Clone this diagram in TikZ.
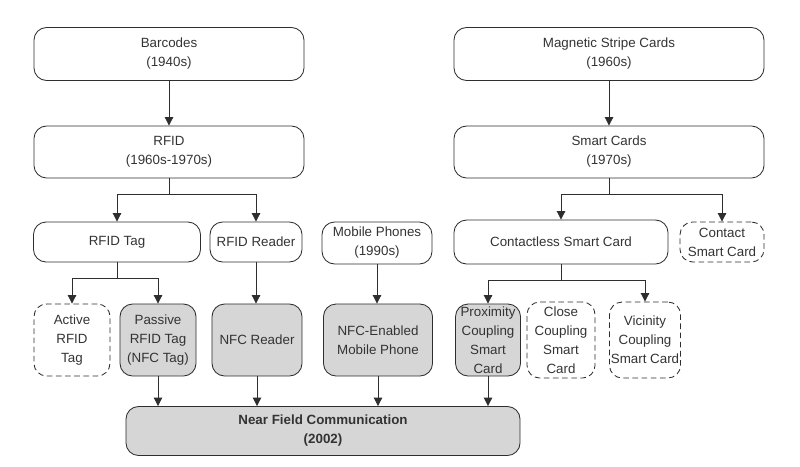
\documentclass[tikz,border=0pt]{standalone}
\usepackage{fontspec}
\setmainfont{Liberation Sans}
\usepackage{tikz}
\usetikzlibrary{positioning,arrows.meta}
\usepackage{xcolor}
\definecolor{linec}{HTML}{2E2E2E}
\definecolor{txtc}{HTML}{333333}
\definecolor{greyc}{HTML}{D6D6D6}

\begin{document}
\begin{tikzpicture}[%
    x=0.025cm,
    y=-0.025cm,
    >={Triangle[width=6pt,length=6pt]},
    card/.style={%
      draw=linec,
      line width=0.6pt,
      rounded corners=9pt,
      align=center,
      inner sep=0pt,
      text=txtc,
      font=\fontsize{9.5}{13.5}\selectfont
    },
    nfc/.style={%
      card,
      fill=greyc
    },
    other/.style={%
      card,
      dashed,
      dash pattern=on 4pt off 2.5pt
    },
    link/.style={%
      ->,
      draw=linec,
      line width=0.6pt
    }
  ]
    \useasboundingbox (0,0) rectangle (800,466);

    % first row
    \node[card, minimum width=6.75cm, minimum height=1.325cm] (barcode) at (169,54)  {Barcodes\\(1940s)};
    \node[card, minimum width=7.75cm, minimum height=1.325cm] (stripe)  at (609,54)  {Magnetic Stripe Cards\\(1960s)};

    % second row
    \node[card, minimum width=6.75cm, minimum height=1.3cm] (rfid)  at (169,152) {RFID\\(1960s-1970s)};
    \node[card, minimum width=7.75cm, minimum height=1.3cm] (smart) at (609,152) {Smart Cards\\(1970s)};

    % third row
    \node[card,  minimum width=4.175cm, minimum height=1cm]  (tag)         at (117,242) {RFID Tag};
    \node[card,  minimum width=2.3cm,   minimum height=1cm]  (reader)      at (256,242) {RFID Reader};
    \node[card,  minimum width=2.75cm,  minimum height=1.05cm] (phone)     at (377,243) {Mobile Phones\\(1990s)};
    \node[card,  minimum width=5.35cm,  minimum height=1.1cm]  (contactless) at (561,242) {Contactless Smart Card};
    \node[other, minimum width=2.1cm,   minimum height=1cm]  (contact)     at (722,242) {Contact\\Smart Card};

    % fourth row
    \node[other, minimum width=1.9cm,   minimum height=1.8cm] (active)    at (72,340)  {Active\\RFID\\Tag};
    \node[nfc,   minimum width=1.9cm,   minimum height=1.8cm] (passive)   at (158,340) {Passive\\RFID Tag\\(NFC Tag)};
    \node[nfc,   minimum width=2.25cm,  minimum height=1.8cm] (nfcreader) at (257,340) {NFC Reader};
    \node[nfc,   minimum width=2.725cm, minimum height=1.8cm] (nfcphone)  at (378,340) {NFC-Enabled\\Mobile Phone};
    \node[nfc,   minimum width=1.625cm, minimum height=1.8cm] (proximity) at (488,340) {Proximity\\Coupling\\Smart\\Card};
    \node[other, minimum width=1.7cm,   minimum height=1.9cm] (close)     at (561,340) {Close\\Coupling\\Smart\\Card};
    \node[other, minimum width=1.775cm, minimum height=1.9cm] (vicinity)  at (645,340) {Vicinity\\Coupling\\Smart Card};

    % bottom
    \node[nfc, minimum width=9.85cm, minimum height=1.225cm, font=\fontsize{9.5}{13.5}\selectfont\bfseries] (nfcbox) at (323,431) {Near Field Communication\\(2002)};

    \draw[link] (barcode) -- (rfid);
    \draw[link] (stripe) -- (smart);
    \draw[link] (rfid.south) -- ++(0,16) -| (tag.north);
    \draw[link] (rfid.south) -- ++(0,16) -| (reader.north);
    \draw[link] (smart.south) -- ++(0,16) -| (contactless.north);
    \draw[link] (smart.south) -- ++(0,16) -| (contact.north);
    \draw[link] (tag.south) -- ++(0,16) -| (active.north);
    \draw[link] (tag.south) -- ++(0,16) -| (passive.north);
    \draw[link] (reader) -- (reader |- nfcreader.north);
    \draw[link] (phone) -- (phone |- nfcphone.north);
    \draw[link] (contactless.south) -- ++(0,16) -| (proximity.north);
    \draw[link] (contactless.south) -- ++(0,16) -| (vicinity.north);
    \draw[link] (passive) -- (passive |- nfcbox.north);
    \draw[link] (nfcreader) -- (nfcreader |- nfcbox.north);
    \draw[link] (nfcphone) -- (nfcphone |- nfcbox.north);
    \draw[link] (proximity) -- (proximity |- nfcbox.north);
  \end{tikzpicture}
\end{document}
